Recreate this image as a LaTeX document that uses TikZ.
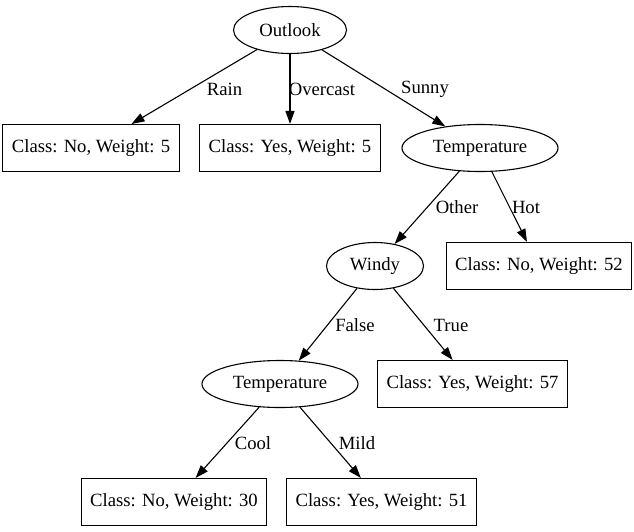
\documentclass[tikz,border=0pt]{standalone}
\usepackage{fontspec}
\setmainfont{Liberation Serif}
\usetikzlibrary{shapes.geometric,arrows.meta}
\begin{document}
\begin{tikzpicture}[x=1pt,y=-1pt,
  every node/.style={font=\fontsize{18.67}{22}\selectfont},
  ell/.style={draw,ellipse,line width=1.1pt,inner sep=0pt,minimum height=47pt},
  leaf/.style={draw,rectangle,line width=1.1pt,inner xsep=9pt,inner ysep=0pt,minimum height=47pt},
  edge/.style={draw,line width=1.1pt,-{Triangle[length=13pt,width=9pt]}},
  elabel/.style={inner sep=0pt}]
\useasboundingbox (0,0) rectangle (634,531);
\node[ell,minimum width=113pt] (outlook) at (290,30) {Outlook};
\node[leaf] (rain) at (91,148) {Class: No, Weight: 5};
\node[leaf] (over) at (290,148) {Class: Yes, Weight: 5};
\node[ell,minimum width=156pt] (temp1) at (480,148) {Temperature};
\node[ell,minimum width=97pt] (windy) at (375,266) {Windy};
\node[leaf] (hot) at (539,266) {Class: No, Weight: 52};
\node[ell,minimum width=156pt] (temp2) at (280,384) {Temperature};
\node[leaf] (true) at (472.5,384) {Class: Yes, Weight: 57};
\node[leaf] (cool) at (174,502) {Class: No, Weight: 30};
\node[leaf] (mild) at (381.5,502) {Class: Yes, Weight: 51};
\draw[edge] (outlook) -- (rain);
\draw[edge] (outlook) -- (over);
\draw[edge] (outlook) -- (temp1);
\draw[edge] (temp1) -- (windy);
\draw[edge] (temp1) -- (hot);
\draw[edge] (windy) -- (temp2);
\draw[edge] (windy) -- (true);
\draw[edge] (temp2) -- (cool);
\draw[edge] (temp2) -- (mild);
\node[elabel] (lrain) at (224.5,89) {Rain};
\node[elabel] (lover) at (322,89) {Overcast};
\node[elabel] (lsunny) at (425,89) {Sunny};
\node[elabel] (lother) at (457,207) {Other};
\node[elabel] (lhot) at (526,207) {Hot};
\node[elabel] (lfalse) at (355,325) {False};
\node[elabel] (ltrue) at (451,325) {True};
\node[elabel] (lcool) at (253,443) {Cool};
\node[elabel] (lmild) at (357,443) {Mild};
\end{tikzpicture}
\end{document}
